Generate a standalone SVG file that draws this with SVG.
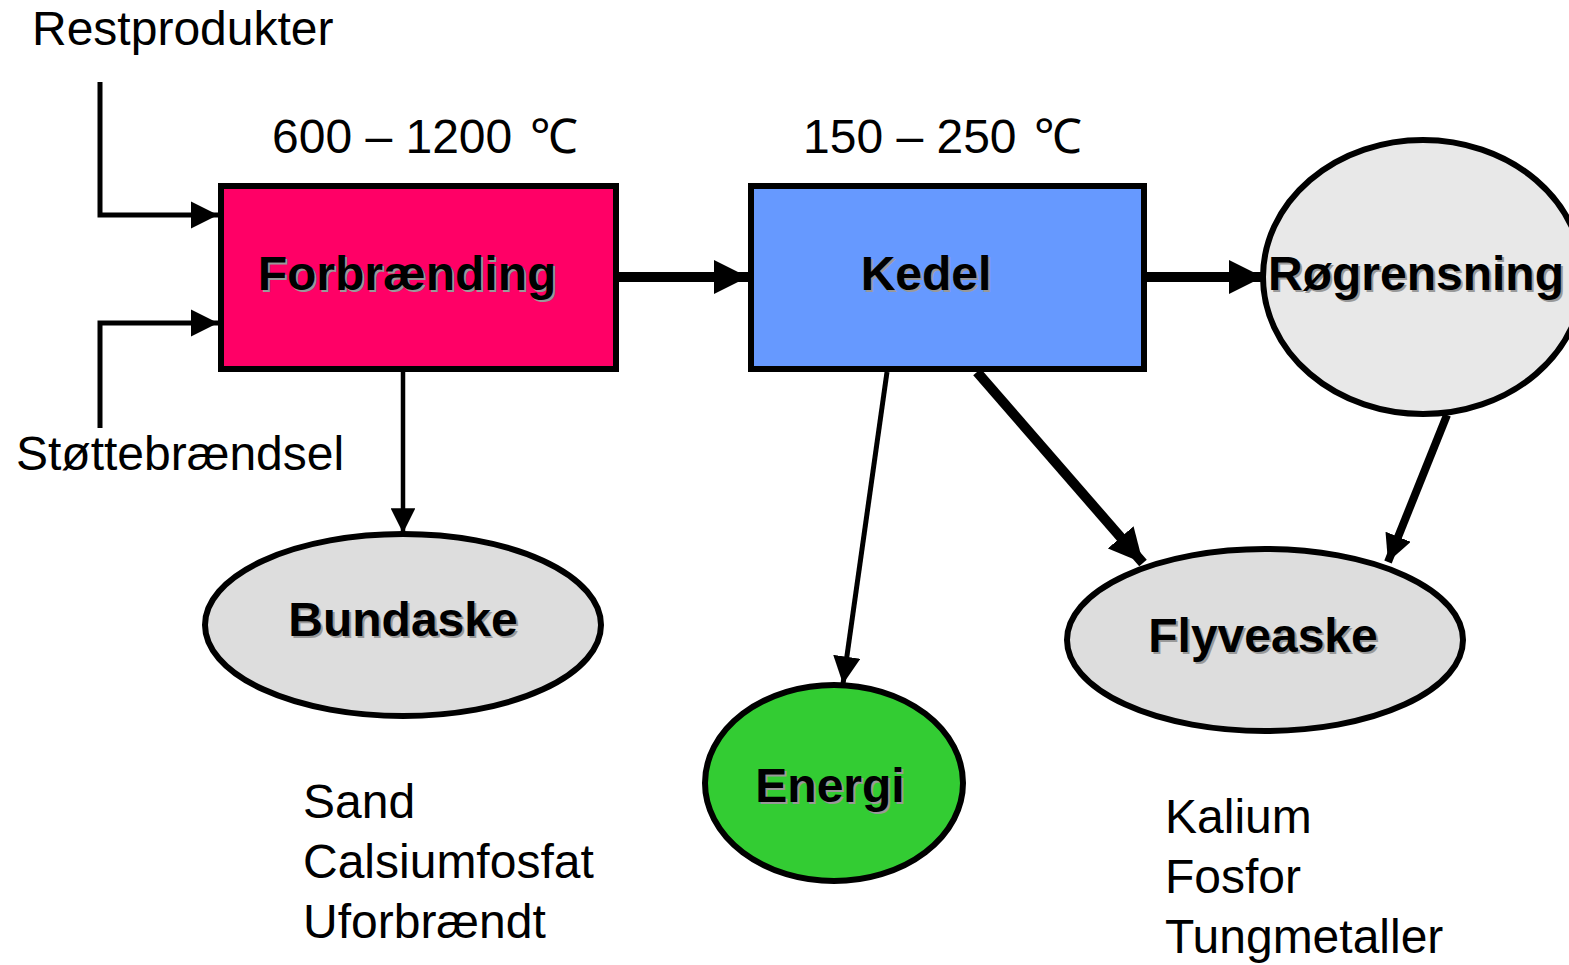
<svg xmlns="http://www.w3.org/2000/svg" width="1569" height="965" viewBox="0 0 1569 965">
<defs>
<style>
.t{font-family:"Liberation Sans",Arial,sans-serif;font-size:48px;fill:#000}
.b{font-family:"Liberation Sans",Arial,sans-serif;font-size:48px;font-weight:bold;fill:#000;text-anchor:middle}
.s{font-family:"Liberation Sans",Arial,sans-serif;font-size:48px;font-weight:bold;fill:#999;text-anchor:middle}
.shape{stroke:#000;stroke-width:6}
.ln{fill:none;stroke:#000}
</style>
<marker id="ah" viewBox="0 0 10 10" refX="10" refY="5" markerWidth="5.5" markerHeight="5.5" markerUnits="strokeWidth" orient="auto"><path d="M0,0 L10,5 L0,10 z" fill="#000"/></marker>
<marker id="ahT" viewBox="0 0 10 10" refX="10" refY="5" markerWidth="3.4" markerHeight="3.4" markerUnits="strokeWidth" orient="auto"><path d="M0,0 L10,5 L0,10 z" fill="#000"/></marker>
</defs>
<rect width="1569" height="965" fill="#fff"/>

<g id="connectors">
<path class="ln" d="M100,82 V215 H218" stroke-width="5" marker-end="url(#ah)"/>
<path class="ln" d="M100,428 V323 H218" stroke-width="5" marker-end="url(#ah)"/>
<path class="ln" d="M403,372 V533" stroke-width="4.5" marker-end="url(#ah)"/>
<path class="ln" d="M619,277 H748" stroke-width="10" marker-end="url(#ahT)"/>
<path class="ln" d="M1147,277 H1263" stroke-width="10" marker-end="url(#ahT)"/>
<path class="ln" d="M887,372 L843,684" stroke-width="5" marker-end="url(#ah)"/>
<path class="ln" d="M977,372 L1143,563" stroke-width="10" marker-end="url(#ahT)"/>
<path class="ln" d="M1447,415 L1388,562" stroke-width="8" marker-end="url(#ahT)"/>
</g>

<g id="forbraending">
<rect class="shape" x="221" y="186" width="395" height="183" fill="#FF0066"/>
<text class="s" x="409" y="292">Forbrænding</text>
<text class="b" x="407" y="290">Forbrænding</text>
</g>

<g id="kedel">
<rect class="shape" x="751" y="186" width="393" height="183" fill="#6699FF"/>
<text class="s" x="928" y="292">Kedel</text>
<text class="b" x="926" y="290">Kedel</text>
</g>

<g id="roegrensning">
<ellipse class="shape" cx="1423" cy="277" rx="160" ry="137" fill="#E8E8E8"/>
<text class="s" x="1418" y="292">Røgrensning</text>
<text class="b" x="1416" y="290">Røgrensning</text>
</g>

<g id="bundaske">
<ellipse class="shape" cx="403" cy="625" rx="198" ry="91" fill="#DDDDDD"/>
<text class="s" x="405" y="638">Bundaske</text>
<text class="b" x="403" y="636">Bundaske</text>
</g>

<g id="flyveaske">
<ellipse class="shape" cx="1265" cy="640" rx="198" ry="91" fill="#DDDDDD"/>
<text class="s" x="1265" y="654">Flyveaske</text>
<text class="b" x="1263" y="652">Flyveaske</text>
</g>

<g id="energi">
<ellipse class="shape" cx="834" cy="783" rx="129" ry="98" fill="#33CC33"/>
<text class="s" x="832" y="804">Energi</text>
<text class="b" x="830" y="802">Energi</text>
</g>

<g id="labels">
<text class="t" x="32" y="45">Restprodukter</text>
<text class="t" x="272" y="153">600 – 1200 <tspan dx="4">℃</tspan></text>
<text class="t" x="803" y="153">150 – 250 <tspan dx="4">℃</tspan></text>
<text class="t" x="16" y="470">Støttebrændsel</text>
<text class="t" x="303" y="818">Sand</text>
<text class="t" x="303" y="878">Calsiumfosfat</text>
<text class="t" x="303" y="938">Uforbrændt</text>
<text class="t" x="1165" y="833">Kalium</text>
<text class="t" x="1165" y="893">Fosfor</text>
<text class="t" x="1165" y="953">Tungmetaller</text>
</g>
</svg>
